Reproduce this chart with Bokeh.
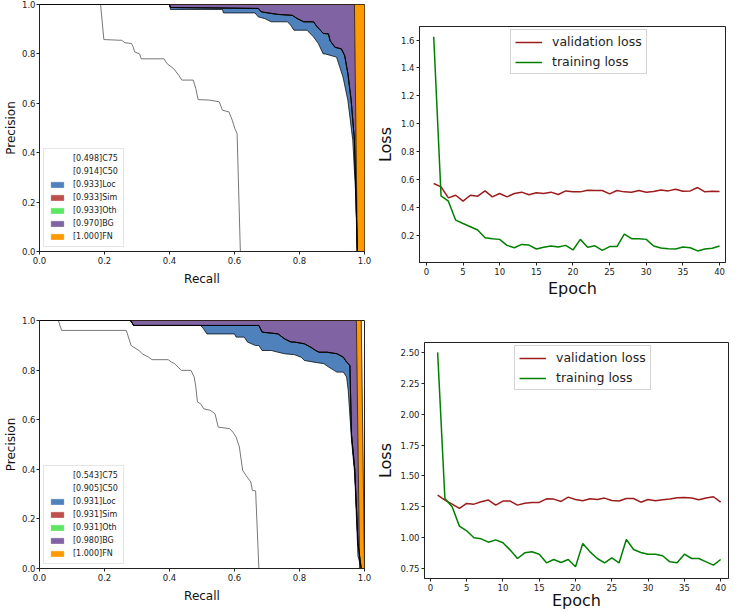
from bokeh.plotting import figure
from bokeh.layouts import column, row
from bokeh.models import Legend, LegendItem, FixedTicker, Range1d, NumeralTickFormatter
from bokeh.embed import file_html
from bokeh.resources import INLINE

FONT = "DejaVu Sans"

# ---------------- PR curve data ----------------
TYPES = ["C75", "C50", "Loc", "Sim", "Oth", "BG", "FN"]
COLORS = ["#ffffff", "#ffffff", "#4f82bd", "#bf4f4c", "#5ce661", "#8063a3", "#ff9900"]

AP_A = [0.498, 0.914, 0.933, 0.933, 0.933, 0.970, 1.000]
AP_B = [0.543, 0.905, 0.931, 0.931, 0.931, 0.980, 1.000]

# top PR plot
C75_A_R = [0, 0.188, 0.198, 0.253, 0.263, 0.283, 0.288, 0.293, 0.308, 0.313, 0.383, 0.393, 0.413, 0.428,
           0.438, 0.473, 0.481, 0.488, 0.523, 0.553, 0.563, 0.583, 0.593, 0.601, 0.608, 0.618, 1.0]
C75_A_P = [1, 1, 0.858, 0.855, 0.845, 0.842, 0.829, 0.808, 0.80, 0.78, 0.78, 0.76, 0.74, 0.714,
           0.694, 0.694, 0.66, 0.615, 0.613, 0.606, 0.572, 0.565, 0.532, 0.498, 0.478, 0.0, 0.0]
C50_A_R = [0, 0.40, 0.403, 0.563, 0.566, 0.663, 0.673, 0.693, 0.713, 0.763, 0.773, 0.783, 0.823, 0.843,
           0.858, 0.873, 0.879, 0.914, 0.934, 0.949, 0.964, 0.974, 0.977, 1.0]
C50_A_P = [1, 1, 0.98, 0.98, 0.966, 0.966, 0.95, 0.943, 0.93, 0.93, 0.916, 0.896, 0.896, 0.869,
           0.842, 0.80, 0.80, 0.787, 0.706, 0.611, 0.45, 0.206, 0, 0]
LOC_A_R = [0, 0.40, 0.403, 0.673, 0.683, 0.733, 0.778, 0.793, 0.813, 0.843, 0.853, 0.873, 0.889, 0.894,
           0.909, 0.929, 0.939, 0.949, 0.959, 0.969, 0.974, 0.978, 1.0]
LOC_A_P = [1, 1, 0.988, 0.984, 0.97, 0.96, 0.956, 0.943, 0.93, 0.93, 0.912, 0.883, 0.881, 0.854,
           0.827, 0.82, 0.793, 0.719, 0.611, 0.45, 0.206, 0, 0]
SIM_A_R, SIM_A_P = LOC_A_R, LOC_A_P
OTH_A_R, OTH_A_P = LOC_A_R, LOC_A_P
BG_A_R = [0, 0.969, 0.978, 1.0]
BG_A_P = [1, 1, 0, 0]
FN_A_R = [0, 1.0]
FN_A_P = [1, 1]

# bottom PR plot
C75_B_R = [0, 0.058, 0.068, 0.267, 0.282, 0.306, 0.316, 0.336, 0.346, 0.396, 0.406, 0.416, 0.436, 0.466,
           0.476, 0.481, 0.486, 0.496, 0.505, 0.525, 0.54, 0.55, 0.585, 0.595, 0.605, 0.615, 0.625, 0.635,
           0.65, 0.655, 0.665, 0.675, 1.0]
C75_B_P = [1, 1, 0.96, 0.96, 0.899, 0.879, 0.866, 0.852, 0.842, 0.842, 0.832, 0.826, 0.799, 0.799,
           0.772, 0.732, 0.671, 0.664, 0.644, 0.638, 0.624, 0.57, 0.564, 0.55, 0.53, 0.49, 0.396, 0.376,
           0.349, 0.315, 0.313, 0, 0]
C50_B_R = [0, 0.28, 0.29, 0.496, 0.505, 0.515, 0.60, 0.605, 0.63, 0.64, 0.665, 0.675, 0.685, 0.714, 0.734,
           0.754, 0.785, 0.805, 0.815, 0.845, 0.875, 0.89, 0.915, 0.935, 0.945, 0.95, 0.96, 0.97, 0.98,
           0.99, 1.0]
C50_B_P = [1, 1, 0.98, 0.98, 0.966, 0.946, 0.946, 0.933, 0.933, 0.913, 0.899, 0.899, 0.879, 0.879, 0.872,
           0.866, 0.862, 0.852, 0.839, 0.832, 0.826, 0.812, 0.792, 0.792, 0.772, 0.718, 0.52, 0.38, 0.05,
           0, 0]
LOC_B_R = [0, 0.28, 0.29, 0.675, 0.685, 0.734, 0.754, 0.774, 0.785, 0.815, 0.835, 0.85, 0.86, 0.885,
           0.915, 0.935, 0.945, 0.955, 0.96, 0.97, 0.98, 0.99, 1.0]
LOC_B_P = [1, 1, 0.98, 0.98, 0.953, 0.946, 0.926, 0.913, 0.913, 0.906, 0.892, 0.879, 0.872, 0.872,
           0.866, 0.852, 0.832, 0.819, 0.54, 0.40, 0.10, 0, 0]
SIM_B_R, SIM_B_P = LOC_B_R, LOC_B_P
OTH_B_R, OTH_B_P = LOC_B_R, LOC_B_P
BG_B_R = [0, 0.975, 0.985, 1.0]
BG_B_P = [1, 1, 0, 0]
FN_B_R = [0, 0.99, 1.0]
FN_B_P = [1, 1, 0]

PR_TICKS = [0.0, 0.2, 0.4, 0.6, 0.8, 1.0]

# ---------------- loss data ----------------
EPOCHS = list(range(1, 41))
VAL_A = [0.57, 0.546, 0.467, 0.486, 0.443, 0.486, 0.479, 0.517, 0.474, 0.498,
         0.474, 0.498, 0.508, 0.489, 0.503, 0.498, 0.508, 0.491, 0.517, 0.51,
         0.51, 0.522, 0.52, 0.52, 0.496, 0.52, 0.51, 0.508, 0.52, 0.508,
         0.512, 0.524, 0.517, 0.529, 0.515, 0.517, 0.541, 0.51, 0.515, 0.512]
TRAIN_A = [1.624, 0.481, 0.443, 0.307, 0.283, 0.26, 0.236, 0.181, 0.174, 0.169,
           0.126, 0.109, 0.133, 0.128, 0.1, 0.112, 0.121, 0.114, 0.126, 0.093,
           0.169, 0.112, 0.123, 0.09, 0.117, 0.117, 0.207, 0.174, 0.174, 0.169,
           0.121, 0.107, 0.102, 0.1, 0.114, 0.109, 0.086, 0.1, 0.105, 0.121]
VAL_B = [1.344, 1.304, 1.271, 1.236, 1.277, 1.271, 1.29, 1.304, 1.263, 1.296,
         1.296, 1.263, 1.279, 1.285, 1.285, 1.314, 1.312, 1.293, 1.328, 1.309,
         1.298, 1.314, 1.309, 1.32, 1.301, 1.296, 1.317, 1.317, 1.287, 1.309,
         1.298, 1.306, 1.312, 1.323, 1.325, 1.32, 1.306, 1.32, 1.331, 1.287]
TRAIN_B = [2.5, 1.317, 1.25, 1.093, 1.055, 0.999, 0.99, 0.963, 0.982, 0.958,
           0.899, 0.831, 0.877, 0.885, 0.866, 0.796, 0.823, 0.799, 0.823, 0.764,
           0.953, 0.885, 0.831, 0.795, 0.836, 0.795, 0.985, 0.904, 0.88, 0.866,
           0.866, 0.853, 0.804, 0.796, 0.866, 0.831, 0.831, 0.804, 0.777, 0.823]
EPOCH_TICKS = [0, 5, 10, 15, 20, 25, 30, 35, 40]
LOSS_TICKS_A = [0.2, 0.4, 0.6, 0.8, 1.0, 1.2, 1.4, 1.6]
LOSS_TICKS_B = [0.75, 1.00, 1.25, 1.50, 1.75, 2.00, 2.25, 2.50]
SERIES_NAMES = ["validation loss", "training loss"]
SERIES_COLORS = ["#9c1c1c", "#008000"]


def style_axes(p, tick_size="8.5px", label_size="12px"):
    for ax in (p.xaxis[0], p.yaxis[0]):
        ax.major_label_text_font = FONT
        ax.major_label_text_font_size = tick_size
        ax.major_label_text_color = "#222222"
        ax.axis_label_text_font = FONT
        ax.axis_label_text_font_size = label_size
        ax.axis_label_text_font_style = "normal"
        ax.axis_label_text_color = "#111111"
        ax.minor_tick_line_color = None
        ax.major_tick_in = 0
        ax.major_tick_out = 3
        ax.major_label_standoff = 2
        ax.axis_line_color = "#222222"
        ax.major_tick_line_color = "#222222"
    p.grid.visible = False
    p.outline_line_color = "#222222"


def pr_fig(curves, aps, w, h, bl, br, bt, bb):
    p = figure(width=w, height=h, x_range=Range1d(0, 1), y_range=Range1d(0, 1),
               output_backend="svg", toolbar_location=None, frame_align=False,
               min_border_left=bl, min_border_right=br, min_border_top=bt, min_border_bottom=bb,
               x_axis_label="Recall", y_axis_label="Precision")
    prev_r, prev_p = [0.0, 1.0], [0.0, 0.0]
    items = []
    for k, (r, pr) in enumerate(curves):
        xs = list(r) + list(prev_r)[::-1]
        ys = list(pr) + list(prev_p)[::-1]
        g = p.patch(xs, ys, fill_color=COLORS[k], line_color=COLORS[k], line_width=0.3)
        items.append(LegendItem(label=f"[{aps[k]:.3f}]{TYPES[k]}", renderers=[g]))
        prev_r, prev_p = r, pr
    for k, (r, pr) in enumerate(curves):
        if k == 0:
            p.line(r, pr, line_color="#777777", line_width=1.0)
        else:
            p.line(r, pr, line_color="black", line_width=0.7)
    for ax in (p.xaxis[0], p.yaxis[0]):
        ax.ticker = FixedTicker(ticks=PR_TICKS)
        ax.formatter = NumeralTickFormatter(format="0.0")
    style_axes(p)
    p.xaxis[0].axis_label_standoff = 5
    p.yaxis[0].axis_label_standoff = 1
    p.yaxis[0].major_label_standoff = 1
    leg = Legend(items=items, location="bottom_left", label_text_font=FONT, label_text_font_size="8px",
                 label_text_color="#222222", glyph_width=16, glyph_height=7, label_height=8,
                 label_standoff=8, spacing=4, padding=5, margin=4,
                 border_line_color="#cccccc", border_line_width=1, background_fill_alpha=0.85)
    p.add_layout(leg, "center")
    return p


def loss_fig(val, train, xr, yr, yticks, fmt, w, h, bl, br, bt, bb, leg_xy, xlabel_standoff):
    p = figure(width=w, height=h, x_range=Range1d(*xr), y_range=Range1d(*yr),
               output_backend="svg", toolbar_location=None, frame_align=False,
               min_border_left=bl, min_border_right=br, min_border_top=bt, min_border_bottom=bb,
               x_axis_label="Epoch", y_axis_label="Loss")
    rv = p.line(EPOCHS, val, line_color=SERIES_COLORS[0], line_width=1.5)
    rt = p.line(EPOCHS, train, line_color=SERIES_COLORS[1], line_width=1.5)
    p.xaxis[0].ticker = FixedTicker(ticks=EPOCH_TICKS)
    p.yaxis[0].ticker = FixedTicker(ticks=yticks)
    p.yaxis[0].formatter = NumeralTickFormatter(format=fmt)
    style_axes(p, label_size="16px")
    p.xaxis[0].axis_label_standoff = xlabel_standoff
    p.yaxis[0].axis_label_standoff = 3
    leg = Legend(items=[LegendItem(label=SERIES_NAMES[0], renderers=[rv]),
                        LegendItem(label=SERIES_NAMES[1], renderers=[rt])],
                 location=leg_xy, label_text_font=FONT, label_text_font_size="12.5px",
                 label_text_color="#222222", glyph_width=27, glyph_height=14, label_height=14,
                 label_standoff=10, spacing=5, padding=4, margin=0,
                 border_line_color="#aaaaaa", border_line_width=1, background_fill_alpha=1.0)
    p.add_layout(leg, "center")
    return p


curves_a = [(C75_A_R, C75_A_P), (C50_A_R, C50_A_P), (LOC_A_R, LOC_A_P), (SIM_A_R, SIM_A_P),
            (OTH_A_R, OTH_A_P), (BG_A_R, BG_A_P), (FN_A_R, FN_A_P)]
curves_b = [(C75_B_R, C75_B_P), (C50_B_R, C50_B_P), (LOC_B_R, LOC_B_P), (SIM_B_R, SIM_B_P),
            (OTH_B_R, OTH_B_P), (BG_B_R, BG_B_P), (FN_B_R, FN_B_P)]

tl = pr_fig(curves_a, AP_A, 372, 302, 33, 8, 4, 51)
bl = pr_fig(curves_b, AP_B, 372, 310, 31, 8, 18, 44)
tr = loss_fig(VAL_A, TRAIN_A, (-0.94, 40.81), (0.003, 1.697), LOSS_TICKS_A, "0.0",
              357, 302, 43, 4, 26, 40, (91, 188), 1)
br = loss_fig(VAL_B, TRAIN_B, (-0.81, 41.08), (0.669, 2.58), LOSS_TICKS_B, "0.00",
              357, 310, 46, 1, 40, 32, (90, 188), -3)

layout = column(row(tl, tr), row(bl, br))

open("out.html", "w").write(file_html(layout, INLINE))
